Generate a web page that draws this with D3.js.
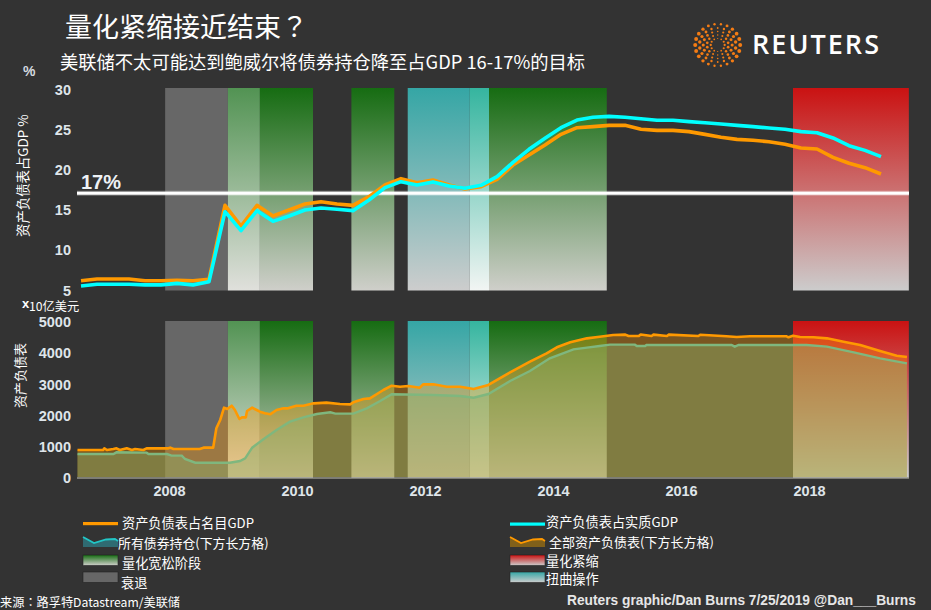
<!DOCTYPE html>
<html><head><meta charset="utf-8">
<script src="https://cdn.jsdelivr.net/npm/d3@7"></script>
<style>
html,body{margin:0;padding:0;background:#333;overflow:hidden}
svg{display:block}
text{font-family:"Noto Sans CJK SC","Noto Sans",sans-serif;fill:#fff}
.tick text{font-family:"Liberation Sans",sans-serif;font-weight:700;font-size:14.5px;fill:#dfe5ea}
</style></head><body>
<svg id="c" width="931" height="610"></svg>
<script>
const titleMain = "量化紧缩接近结束";
const titleMark = "？";
const subtitle = "美联储不太可能达到鲍威尔将债券持仓降至占GDP 16-17%的目标";
const yearTicks = [2008,2010,2012,2014,2016,2018];
const pctTicks = [5,10,15,20,25,30];
const usdTicks = [0,1000,2000,3000,4000,5000];
const targetPct = 17.1;

const quarters = ["2006Q3","2006Q4","2007Q1","2007Q2","2007Q3","2007Q4","2008Q1","2008Q2","2008Q3","2008Q4",
"2009Q1","2009Q2","2009Q3","2009Q4","2010Q1","2010Q2","2010Q3","2010Q4","2011Q1","2011Q2","2011Q3","2011Q4",
"2012Q1","2012Q2","2012Q3","2012Q4","2013Q1","2013Q2","2013Q3","2013Q4","2014Q1","2014Q2","2014Q3","2014Q4",
"2015Q1","2015Q2","2015Q3","2015Q4","2016Q1","2016Q2","2016Q3","2016Q4","2017Q1","2017Q2","2017Q3","2017Q4",
"2018Q1","2018Q2","2018Q3","2018Q4","2019Q1"];
const pctNominal = [6.22,6.43,6.43,6.43,6.22,6.22,6.26,6.22,6.39,15.59,13.02,15.59,14.27,15.01,15.76,16.05,15.76,15.59,16.67,18.12,18.91,18.41,18.74,18.12,
17.62,17.91,18.83,20.6,21.85,23.1,24.42,25.25,25.38,25.54,25.54,25.05,24.92,24.92,24.76,24.42,24.05,23.8,23.68,23.51,23.18,22.72,22.6,21.56,20.82,20.28,19.49];
const pctReal = [5.56,5.77,5.77,5.77,5.7,5.7,5.89,5.7,6.1,14.8,12.44,14.93,13.6,14.27,15.01,15.26,15.1,14.93,16.26,17.79,18.54,18.12,18.5,18.0,
17.71,18.08,19.16,20.94,22.56,23.93,25.25,26.2,26.54,26.66,26.54,26.37,26.17,26.17,26.0,25.87,25.71,25.54,25.38,25.21,25.05,24.76,24.63,23.97,23.01,22.43,21.65];

const totalYears = [2006.57,2006.97,2006.99,2007.03,2007.13,2007.18,2007.23,2007.34,2007.42,2007.47,2007.60,2007.65,2007.99,2008.02,2008.07,2008.48,2008.54,2008.69,2008.74,2008.80,2008.86,2008.91,2008.98,2009.03,2009.10,2009.14,2009.20,2009.22,2009.30,2009.37,2009.42,2009.50,2009.58,2009.68,2009.79,2009.86,2009.99,2010.10,2010.26,2010.46,2010.67,2010.83,2010.88,2011.04,2011.14,2011.35,2011.48,2011.61,2011.74,2011.92,2011.97,2012.13,2012.34,2012.55,2012.76,2012.99,2013.33,2013.64,2013.90,2014.06,2014.27,2014.53,2014.73,2014.94,2015.13,2015.18,2015.34,2015.37,2015.54,2015.57,2015.78,2015.81,2016.27,2016.30,2016.71,2016.87,2017.08,2017.65,2017.68,2017.75,2017.86,2018.07,2018.28,2018.54,2018.80,2019.11,2019.37,2019.53];
const totalValues = [897,897,951,897,929,951,897,951,897,929,897,951,951,972,929,929,972,972,1592,1859,2254,2212,2318,2179,1891,1944,1944,2147,2254,2179,2126,2073,2041,2179,2233,2233,2318,2318,2393,2415,2372,2361,2425,2532,2553,2821,2959,2927,2949,2895,3002,3002,2927,2927,2853,2981,3387,3729,3996,4188,4348,4476,4530,4583,4594,4551,4551,4600,4551,4594,4551,4594,4551,4590,4541,4519,4541,4541,4509,4562,4519,4509,4476,4370,4263,4071,3921,3878];
const somaYears = [2006.57,2007.13,2007.18,2007.65,2007.68,2007.97,2008.04,2008.20,2008.25,2008.41,2008.95,2009.11,2009.19,2009.30,2009.48,2009.68,2009.89,2010.10,2010.31,2010.52,2010.60,2010.88,2011.09,2011.30,2011.48,2012.13,2012.55,2012.76,2012.99,2013.33,2013.64,2013.95,2014.32,2014.53,2014.73,2014.89,2015.28,2015.31,2015.44,2015.46,2016.79,2016.84,2016.90,2017.96,2018.28,2018.70,2019.11,2019.53];
const somaValues = [769,769,823,812,769,769,716,716,609,491,491,545,630,972,1250,1538,1806,1944,2051,2105,2062,2062,2233,2468,2682,2660,2628,2575,2692,3109,3429,3835,4124,4177,4231,4274,4274,4231,4231,4263,4263,4209,4263,4263,4209,4028,3835,3675];

const bandTypes  = ["recession","qeLight","qe","qe","twist","overlap","qe","tighten"];
const bandStarts = [2007.94,2008.92,2009.42,2010.85,2011.73,2012.70,2013.00,2017.75];
const bandEnds   = [2008.92,2009.42,2010.25,2011.52,2012.70,2013.00,2014.84,2019.56];
const gradStops = {
  qe:["#166c12","#cfcfca"], qeLight:["#529353","#e0e0dc"], twist:["#35a6a5","#cdcdcd"],
  overlap:["#35b59f","#f2f5f3"], tighten:["#ca1212","#cccccc"], recession:["#676767","#676767"]
};
const legendSwatchColors = {orange:"#ff9900",cyan:"#00ffff"};

const svg = d3.select("#c");
svg.append("rect").attr("width",931).attr("height",610).attr("fill","#333333");
const defs = svg.append("defs");
Object.entries(gradStops).forEach(([k,c])=>{
  const g = defs.append("linearGradient").attr("id","g-"+k).attr("x1",0).attr("x2",0).attr("y1",0).attr("y2",1);
  g.append("stop").attr("offset",0).attr("stop-color",c[0]);
  g.append("stop").attr("offset",1).attr("stop-color",c[1]);
});

const yearX = d3.scaleLinear().domain([2008,2018]).range([169,809]);
const x0 = 77, x1 = 909;
const yPct = d3.scaleLinear().domain([5,30]).range([290.5,89.5]);
const yUsd = d3.scaleLinear().domain([0,5000]).range([478,322]);
const qYear = q => +q.slice(0,4) + (+q[5]-0.5)/4;
const bands = bandTypes.map((t,i)=>({t,s:bandStarts[i],e:bandEnds[i]}));

function drawBands(top,bottom){
  svg.append("g").selectAll("rect").data(bands).join("rect")
    .attr("x",d=>yearX(d.s)).attr("width",d=>yearX(d.e)-yearX(d.s))
    .attr("y",top).attr("height",bottom-top)
    .attr("fill",d=>`url(#g-${d.t})`);
}
function axes(y,ticks,tx){
  svg.append("g").attr("transform",`translate(${tx},0)`)
    .call(d3.axisLeft(y).tickValues(ticks).tickSize(0).tickPadding(0).tickFormat(d3.format("d")))
    .call(g=>g.select(".domain").remove());
}

/* upper panel */
drawBands(88,290.5);
svg.append("rect").attr("x",x0).attr("width",x1-x0).attr("y",yPct(targetPct)-2.5).attr("height",5).attr("fill","#fff").attr("opacity",.3);
svg.append("rect").attr("x",x0).attr("width",x1-x0).attr("y",yPct(targetPct)-1.5).attr("height",3).attr("fill","#fff");
svg.append("text").attr("x",81).attr("y",189).text("17%")
  .style("font-family",'"Liberation Sans",sans-serif').style("font-weight",700).style("font-size","20px").style("fill","#eef2f6");
const lineQ = d3.line().x(d=>yearX(qYear(d[0]))).y(d=>yPct(d[1]));
[[pctNominal,"#ff9900"],[pctReal,"#00ffff"]].forEach(([v,c])=>{
  svg.append("path").attr("d",lineQ(quarters.map((q,i)=>[q,v[i]])))
    .attr("fill","none").attr("stroke",c).attr("stroke-width",3.6).attr("stroke-linejoin","round");
});
axes(yPct,pctTicks,71);

/* lower panel */
drawBands(321,477.5);
const totalD = totalYears.map((y,i)=>[y,totalValues[i]]);
const somaD = somaYears.map((y,i)=>[y,somaValues[i]]);
const area = d3.area().x(d=>yearX(d[0])).y0(yUsd(0)-1).y1(d=>yUsd(d[1]));
const line = d3.line().x(d=>yearX(d[0])).y(d=>yUsd(d[1]));
svg.append("path").attr("d",area(totalD)).attr("fill","#ff9900").attr("fill-opacity",.35);
svg.append("path").attr("d",area(somaD)).attr("fill","rgb(136,173,110)").attr("fill-opacity",.43);
svg.append("path").attr("d",line(somaD)).attr("fill","none").attr("stroke","#7fb77e").attr("stroke-width",2.4);
svg.append("path").attr("d",line(totalD)).attr("fill","none").attr("stroke","#ff9900").attr("stroke-width",2.6).attr("stroke-linejoin","round");
svg.append("line").attr("x1",x0).attr("x2",x1).attr("y1",478).attr("y2",478).attr("stroke","#c8c8b8").attr("stroke-width",1.2);
axes(yUsd,usdTicks,71);
svg.append("g").attr("transform","translate(0,482)")
  .call(d3.axisBottom(yearX).tickValues(yearTicks).tickSize(0).tickPadding(4).tickFormat(d3.format("d")))
  .call(g=>g.select(".domain").remove());

/* titles and axis captions */
const T=(x,y,s,size,extra)=>{const t=svg.append("text").attr("x",x).attr("y",y).text(s).style("font-size",size+"px");if(extra)extra(t);return t;};
const tt=T(65,37,titleMain,27);
tt.append("tspan").text(titleMark).style("font-family",'"Noto Sans CJK TC"');
T(60,69,subtitle,18.3);
T(23,76,"%",14,t=>t.style("font-family",'"Liberation Sans",sans-serif').style("font-weight",700).style("fill","#d5dbe0"));
T(22,308,"x",13,t=>t.style("font-family",'"Liberation Sans",sans-serif').style("font-weight",700));
T(29,311,"10亿美元",12.2);
svg.append("text").attr("transform","translate(28,237) rotate(-90)").text("资产负债表占GDP %").style("font-size","13.4px");
svg.append("text").attr("transform","translate(25,408) rotate(-90)").text("资产负债表").style("font-size","13px");

/* logo */
const logoRings = [[6.5,12,1],[10,14,1.2],[13.5,16,1.35],[17,18,1.5],[21,22,1.75]];
logoRings.forEach(([r,n,s],k)=>{
  svg.append("g").selectAll("circle").data(d3.range(n)).join("circle")
    .attr("cx",i=>717.7+r*1.07*Math.cos((i+k/2)/n*2*Math.PI)).attr("cy",i=>45+r*Math.sin((i+k/2)/n*2*Math.PI))
    .attr("r",i=>s*(0.6+0.55*Math.abs(Math.cos((i+k/2)/n*2*Math.PI)))).attr("fill","#f47c14");
});
T(752,54,"REUTERS",27,t=>t.attr("textLength",127).attr("lengthAdjust","spacing").style("font-family",'"Open Sans","Liberation Sans",sans-serif').style("font-weight",600));

/* legend */
const leg=(x,y,s,size)=>T(x,y,s,size||13.2);
const zig = d3.line().x(d=>d[0]).y(d=>d[1]);
const swatchRect=(x,y,k)=>svg.append("rect").attr("x",x).attr("y",y).attr("width",35).attr("height",10.5).attr("fill",`url(#g-${k})`).attr("stroke","#222").attr("stroke-width",.6);
svg.append("rect").attr("x",83).attr("y",522).attr("width",35).attr("height",3.2).attr("fill",legendSwatchColors.orange);
leg(122,527.5,"资产负债表占名目GDP");
svg.append("rect").attr("x",510).attr("y",522.5).attr("width",35).attr("height",3.2).attr("fill",legendSwatchColors.cyan);
leg(546,526.5,"资产负债表占实质GDP");
const zz=(x,c,fill)=>{
  const pts=[[x,537],[x+11,543],[x+23,539.5],[x+32,539],[x+35,541]];
  svg.append("path").attr("d",zig(pts)+`L${x+35},547L${x},547Z`).attr("fill",fill);
  svg.append("path").attr("d",zig(pts)).attr("fill","none").attr("stroke",c).attr("stroke-width",1.8);
};
zz(83,"#22c6c6","#2f6b72");
leg(118,547.5,"所有债券持仓(下方长方格)",12.9);
zz(510,"#ff9900","#80601a");
leg(549,546.5,"全部资产负债表(下方长方格)",13);
swatchRect(83,555,"qe"); leg(122,567.5,"量化宽松阶段");
swatchRect(83,572,"recession"); leg(121,587.5,"衰退");
swatchRect(510,555,"tighten"); leg(546,565.5,"量化紧缩");
swatchRect(510,572,"twist"); leg(546,583.5,"扭曲操作");
const src=T(0,607,"来源",12.2);
src.append("tspan").text("：").style("font-family",'"Noto Sans CJK TC"');
src.append("tspan").text("路孚特Datastream/美联储");
T(567,605,"Reuters graphic/Dan Burns 7/25/2019 @Dan___Burns",13.75,t=>t.style("font-family",'"Liberation Sans",sans-serif').style("font-weight",700).style("fill","#e6e6e6"));
</script>
</body></html>
